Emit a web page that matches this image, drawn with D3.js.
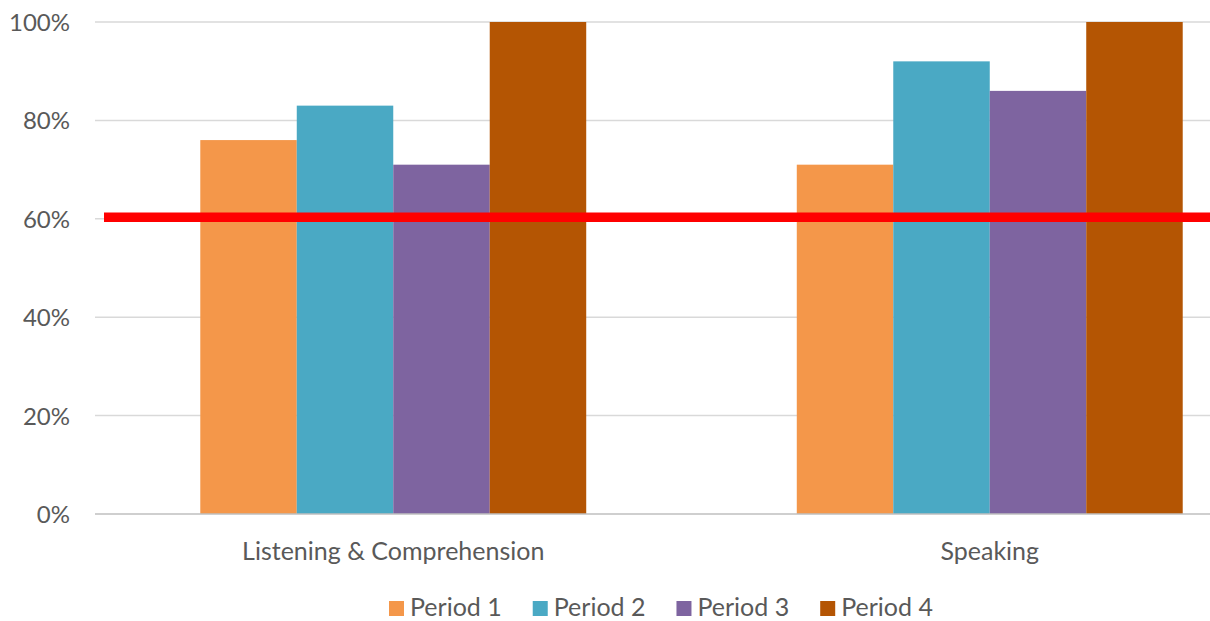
<!DOCTYPE html>
<html>
<head>
<meta charset="utf-8">
<script src="https://cdn.jsdelivr.net/npm/d3@7"></script>
<style>
  body { margin: 0; background: #fff; }
  svg text { font-family: Lato, "Open Sans", sans-serif; fill: #595959; }
</style>
</head>
<body>
<div class="chart"></div>
<script>
var categories = ["Listening & Comprehension", "Speaking"];
var series = ["Period 1", "Period 2", "Period 3", "Period 4"];
var period1 = [76, 71];
var period2 = [83, 92];
var period3 = [71, 86];
var period4 = [100, 100];
var yTicks = [0, 20, 40, 60, 80, 100];
var threshold = 60.3;
var colors = ["#F4974A", "#4AA9C4", "#7E64A0", "#B45503"];

var svgWidth = 1210;
var svgHeight = 621;

// plot runs off the right edge of the picture, like the source
var margin = { top: 22, left: 95 };
var plotRight = 1288;
var plotBottom = 514;

var svg = d3.select(".chart")
  .append("svg")
  .attr("width", svgWidth)
  .attr("height", svgHeight);

var data = categories.map(function(c, i) {
  return { cat: c, values: [period1[i], period2[i], period3[i], period4[i]] };
});

var x0 = d3.scaleBand()
  .domain(categories)
  .range([margin.left, plotRight])
  .paddingInner(0.353)
  .paddingOuter(0.1765);

var x1 = d3.scaleBand()
  .domain(series)
  .range([0, x0.bandwidth()]);

var y = d3.scaleLinear()
  .domain([0, 100])
  .range([plotBottom, margin.top]);

// gridlines
svg.append("g")
  .selectAll("line")
  .data(yTicks.slice(1))
  .enter().append("line")
  .attr("x1", margin.left)
  .attr("x2", plotRight)
  .attr("y1", function(d) { return y(d); })
  .attr("y2", function(d) { return y(d); })
  .attr("stroke", "#d9d9d9")
  .attr("stroke-width", 1.5);

// y labels
var leftAxis = d3.axisLeft(y)
  .tickValues(yTicks)
  .tickSize(0)
  .tickPadding(25)
  .tickFormat(function(d) { return d + "%"; });

var yAxis = svg.append("g")
  .attr("transform", "translate(" + margin.left + ",0)")
  .call(leftAxis);
yAxis.select(".domain").remove();
yAxis.selectAll("text")
  .attr("font-size", 24)
  .attr("dy", "0.35em")
  .style("font-family", "Lato, 'Open Sans', sans-serif")
  .attr("fill", "#595959");

// bars
var groups = svg.append("g").selectAll("g")
  .data(data)
  .enter().append("g")
  .attr("transform", function(d) { return "translate(" + x0(d.cat) + ",0)"; });

groups.selectAll("rect")
  .data(function(d) { return d.values.map(function(v, i) { return { key: series[i], value: v, i: i }; }); })
  .enter().append("rect")
  .attr("x", function(d) { return x1(d.key); })
  .attr("width", x1.bandwidth())
  .attr("y", function(d) { return y(d.value); })
  .attr("height", function(d) { return plotBottom - y(d.value); })
  .attr("fill", function(d) { return colors[d.i]; });

// baseline
svg.append("line")
  .attr("x1", margin.left)
  .attr("x2", plotRight)
  .attr("y1", plotBottom)
  .attr("y2", plotBottom)
  .attr("stroke", "#bfbfbf")
  .attr("stroke-width", 1.5);

// category labels
var bottomAxis = d3.axisBottom(x0).tickSize(0).tickPadding(28);
var xAxis = svg.append("g")
  .attr("transform", "translate(0," + plotBottom + ")")
  .call(bottomAxis);
xAxis.select(".domain").remove();
xAxis.selectAll("text")
  .attr("font-size", 25)
  .style("font-family", "Lato, 'Open Sans', sans-serif")
  .attr("fill", "#595959");

// red target line
svg.append("line")
  .attr("x1", 104)
  .attr("x2", svgWidth)
  .attr("y1", y(threshold))
  .attr("y2", y(threshold))
  .attr("stroke", "#FF0000")
  .attr("stroke-width", 9.5);

// legend
var legend = svg.append("g").attr("transform", "translate(389,601)");
var lx = 0;
series.forEach(function(s, i) {
  var item = legend.append("g").attr("transform", "translate(" + lx + ",0)");
  item.append("rect")
    .attr("width", 15)
    .attr("height", 15)
    .attr("fill", colors[i]);
  var t = item.append("text")
    .attr("x", 21)
    .attr("y", 14.5)
    .attr("font-size", 25)
    .text(s);
  lx += 21 + t.node().getComputedTextLength() + 31;
});
</script>
</body>
</html>
